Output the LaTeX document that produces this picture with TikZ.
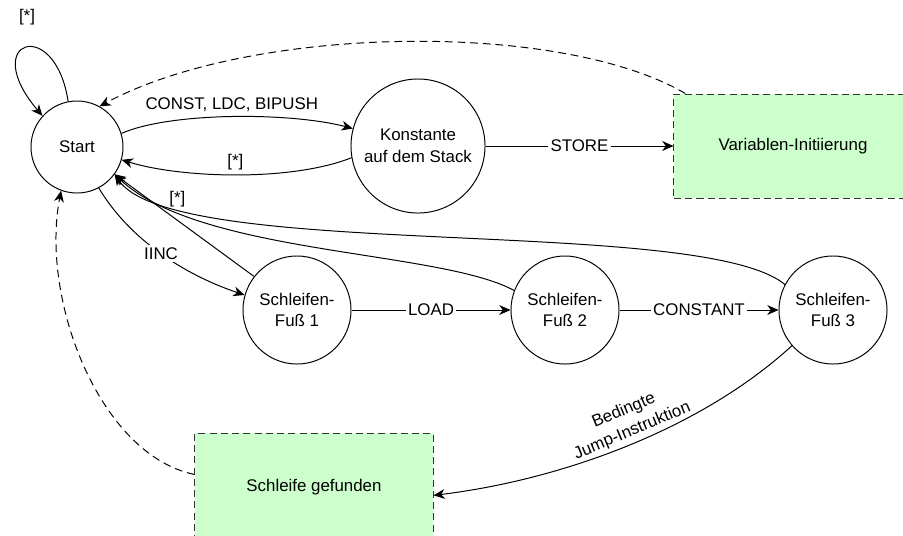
\documentclass[tikz,border=0pt]{standalone}
\usepackage{fontspec}
\setmainfont{Liberation Sans}
\usetikzlibrary{arrows.meta, positioning}
\definecolor{boxgreen}{HTML}{CCFFCC}
\definecolor{boxline}{HTML}{333333}

\begin{document}
\begin{tikzpicture}[x=0.025cm, y=-0.025cm, font=\fontsize{12}{15.5}\selectfont,
  state/.style={draw, circle, line width=0.7pt, inner sep=0pt, align=center},
  result/.style={draw=boxline, fill=boxgreen, line width=0.7pt, dash pattern=on 5pt off 3pt, minimum width=5.95cm},
  trans/.style={line width=0.7pt, -{Stealth[length=8pt, width=7pt, inset=2.5pt]}},
  back/.style={trans, dash pattern=on 5.5pt off 3.5pt},
  lbl/.style={fill=white, inner sep=1.5pt}]
\useasboundingbox (0,0) rectangle (903,535);
%states
\node[state, minimum size=2.3cm] (start) at (77,147) {Start};
\node[state, minimum size=3.35cm] (konst) at (418,146) {Konstante\\auf dem Stack};
\node[state, minimum size=2.7cm] (fuss1) at (297,310) {Schleifen-\\Fuß 1};
\node[state, minimum size=2.7cm] (fuss2) at (565,310) {Schleifen-\\Fuß 2};
\node[state, minimum size=2.7cm] (fuss3) at (833,310) {Schleifen-\\Fuß 3};
%results
\node[result, minimum height=2.6cm] (var) at (793,146) {Variablen-Initiierung};
\node[result, minimum height=2.7cm] (found) at (314,487) {Schleife gefunden};
%self loop
\node (loop) at (27,17) {[*]};
\draw[trans] (start.101) .. controls (55,15) and (-22,40) .. (start.138);
%start and constant
\draw[trans] (start.17) .. controls (170,112) and (290,112) .. (konst.165) node[midway,above] {CONST, LDC, BIPUSH};
\draw[trans] (konst.190) .. controls (290,182) and (180,178) .. (start.-16) node[midway,above] {[*]};
\draw[trans] (konst) -- (var) node[midway,lbl] {STORE};
\draw[back] (var.154) .. controls (560,20) and (250,25) .. (start.61);
%loop feet
\draw[trans] (start.-62) .. controls (130,240) and (185,275) .. (fuss1.164) node[midway,lbl] {IINC};
\draw[trans] (fuss1.142) -- (start.-36) node[pos=0.55,above=6pt] {[*]};
\draw[trans] (fuss2.159) .. controls (440,250) and (200,255) .. (start.-36);
\draw[trans] (fuss3.152) .. controls (700,215) and (175,262) .. (start.-36);
\draw[trans] (fuss1) -- (fuss2) node[midway,lbl] {LOAD};
\draw[trans] (fuss2) -- (fuss3) node[midway,lbl] {CONSTANT};
%jump and found
\draw[trans] (fuss3.221) .. controls (700,430) and (560,480) .. (found.-4) node[pos=0.47,sloped,above=-1pt,align=center] {Bedingte\\Jump-Instruktion};
\draw[back] (found.174) .. controls (100,455) and (40,300) .. (start.250);
\end{tikzpicture}
\end{document}
